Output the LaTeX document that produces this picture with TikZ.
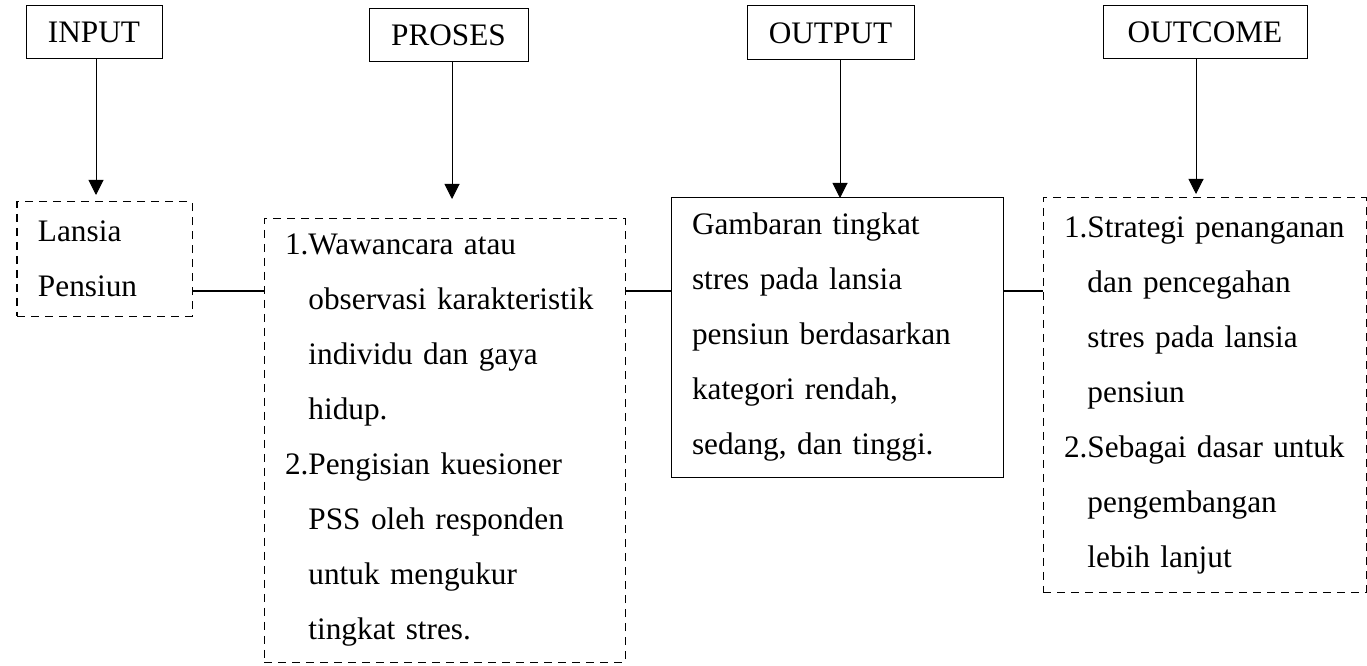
\documentclass[tikz,border=0pt]{standalone}
\usepackage{xcolor}
\usepackage{amsmath}
\usepackage{fontspec}
\setmainfont{Liberation Serif}
\usepackage{tikz}
\usetikzlibrary{calc}
\usetikzlibrary{arrows.meta}

\begin{document}
\begin{tikzpicture}[
    headbox/.style={draw, line width=0.020cm, minimum height=1.060000cm, inner sep=0pt},
    itembox/.style={draw, line width=0.020cm, align=left, inner xsep=0.420000cm, inner ysep=0pt},
    dashbox/.style={itembox, dash pattern=on 0.160000cm off 0.120000cm},
    downarrow/.style={line width=0.020cm, -{Triangle[width=0.300000cm,length=0.300000cm]}},
    joinline/.style={line width=0.050000cm}
  ]
  \useasboundingbox (0,0) rectangle (27.340000,13.300000);
  {\fontsize{17.8}{31.3}\selectfont

  % Marking the four headers
  \node [headbox, minimum width=2.720000cm] (hInput) at (1.880000,12.650000) {INPUT};%
  \node [headbox, minimum width=3.180000cm] (hProses) at (8.970000,12.590000) {PROSES};%
  \node [headbox, minimum width=3.340000cm, minimum height=1.080000cm] (hOutput) at (16.610000,12.640000) {OUTPUT};%
  \node [headbox, minimum width=4.080000cm] (hOutcome) at (24.100000,12.650000) {OUTCOME};%

  % Marking box Lansia
  \node [dashbox, text width=2.660000cm, minimum height=2.280000cm] (lansia) at (2.090000,8.120000)
    {Lansia\\Pensiun};%

  % Marking box proses
  \node [dashbox, text width=6.380000cm, minimum height=8.860000cm] (proses) at (8.890000,4.490000)
    {1.Wawancara atau\\
     \phantom{1.}observasi karakteristik\\
     \phantom{1.}individu dan gaya\\
     \phantom{1.}hidup.\\
     2.Pengisian kuesioner\\
     \phantom{2.}PSS oleh responden\\
     \phantom{2.}untuk mengukur\\
     \phantom{2.}tingkat stres.};%

  % Marking box output
  \node [itembox, text width=5.800000cm, minimum height=5.580000cm] (hasil) at (16.740000,6.550000)
    {Gambaran tingkat\\
     stres pada lansia\\
     pensiun berdasarkan\\
     kategori rendah,\\
     sedang, dan tinggi.};%

  % Marking box outcome
  \node [dashbox, text width=5.620000cm, minimum height=7.880000cm] (dampak) at (24.090000,5.400000)
    {1.Strategi penanganan\\
     \phantom{1.}dan pencegahan\\
     \phantom{1.}stres pada lansia\\
     \phantom{1.}pensiun\\
     2.Sebagai dasar untuk\\
     \phantom{2.}pengembangan\\
     \phantom{2.}lebih lanjut};%

  % Drawing arrows from headers
  \coordinate (tipInput) at (1.920000,9.400000);%
  \coordinate (tipProses) at (9.040000,9.320000);%
  \coordinate (tipOutput) at (16.800000,9.340000);%
  \coordinate (tipOutcome) at (23.920000,9.420000);%
  \draw [downarrow] (hInput.south -| tipInput) -- (tipInput);%
  \draw [downarrow] (hProses.south -| tipProses) -- (tipProses);%
  \draw [downarrow] (hOutput.south -| tipOutput) -- (tipOutput);%
  \draw [downarrow] (hOutcome.south -| tipOutcome) -- (tipOutcome);%

  % Drawing joins between boxes
  \coordinate (joinRow) at (0,7.480000);%
  \draw [joinline] (lansia.east |- joinRow) -- (proses.west |- joinRow);%
  \draw [joinline] (proses.east |- joinRow) -- (hasil.west |- joinRow);%
  \draw [joinline] (hasil.east |- joinRow) -- (dampak.west |- joinRow);%
  }
\end{tikzpicture}
\end{document}
